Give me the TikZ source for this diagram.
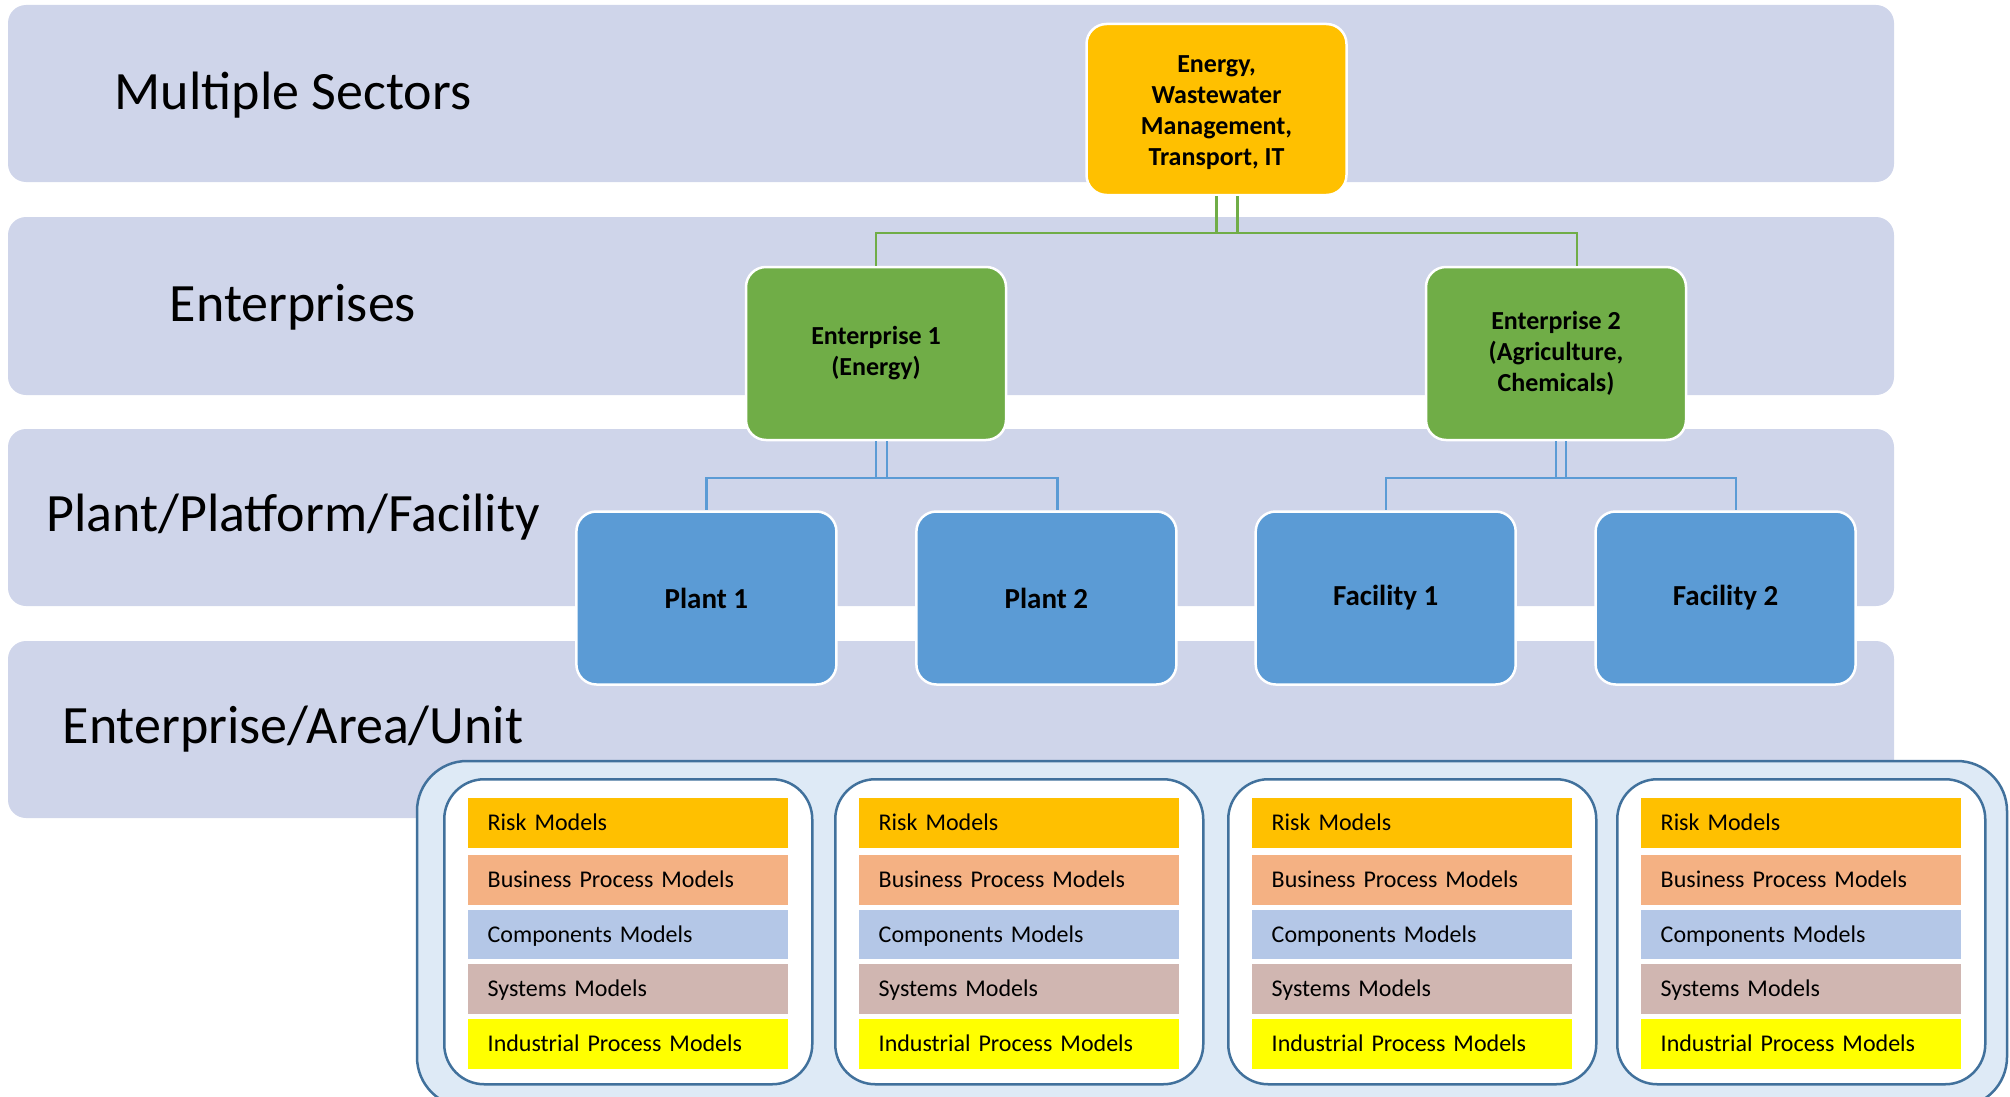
\documentclass[tikz,border=0pt]{standalone}
\usepackage{fontspec}
\setmainfont{Carlito}
\definecolor{bandc}{HTML}{CFD5EA}
\definecolor{orangec}{HTML}{FFC000}
\definecolor{greenc}{HTML}{70AD47}
\definecolor{bluec}{HTML}{5B9BD5}
\definecolor{contfill}{HTML}{DEEAF6}
\definecolor{contline}{HTML}{41719C}
\definecolor{riskc}{HTML}{FFC000}
\definecolor{busc}{HTML}{F4B183}
\definecolor{compc}{HTML}{B4C7E7}
\definecolor{sysc}{HTML}{D0B6B1}
\definecolor{indc}{HTML}{FFFF00}
\tikzset{
  bandbg/.style={fill=bandc, rounded corners=18pt},
  bandlabel/.style={anchor=base, inner sep=0pt, font=\fontsize{54}{60}\selectfont},
  orgbox/.style={draw=white, line width=2.5pt, rounded corners=20pt, minimum width=260pt,
    minimum height=173pt, inner sep=0pt, align=center, font=\bfseries\fontsize{26}{31}\selectfont},
  plantbox/.style={orgbox, fill=bluec, font=\bfseries\fontsize{29}{34}\selectfont},
  gline/.style={draw=greenc, line width=2.2pt},
  bline/.style={draw=bluec, line width=2.2pt},
  panelbox/.style={draw=contline, line width=2.5pt, fill=white, rounded corners=40pt,
    minimum width=368pt, minimum height=305pt, anchor=north west, inner sep=0pt},
  modelbar/.style={anchor=north west, minimum height=49.5pt, text width=280pt, inner xsep=20pt,
    inner ysep=0pt, align=left, text height=15.5pt, text depth=0pt, font=\fontsize{24}{28}\selectfont}
}
\begin{document}
\begin{tikzpicture}[x=1pt,y=-1pt]
\useasboundingbox (0,0) rectangle (2010,1097);
\clip (0,0) rectangle (2010,1097);
% bands
\path[bandbg] (8,5) rectangle (1894,182);
\path[bandbg] (8,217) rectangle (1894,395);
\path[bandbg] (8,429) rectangle (1894,606);
\path[bandbg] (8,641) rectangle (1894,818);
\node[bandlabel] (lab1) at (293,110) {Multiple Sectors};
\node[bandlabel] (lab2) at (293,321.7) {Enterprises};
\node[bandlabel] (lab3) at (293,531.7) {Plant/Platform/Facility};
\node[bandlabel] (lab4) at (293,743.3) {Enterprise/Area/Unit};
% boxes
\node[orgbox, fill=orangec, minimum height=171pt] (top) at (1216.5,109.5) {};
\node[align=center, inner sep=0pt, font=\bfseries\fontsize{26}{31}\selectfont] (toptext) at (1216.5,113) {Energy,\\Wastewater\\Management,\\Transport, IT};
\node[orgbox, fill=greenc] (e1) at (876,353.5) {Enterprise 1\\(Energy)};
\node[orgbox, fill=greenc] (e2) at (1556,353.5) {Enterprise 2\\(Agriculture,\\Chemicals)};
\node[plantbox] (p1) at (706.4,598) {Plant 1};
\node[plantbox] (p2) at (1046.4,598) {Plant 2};
\node[plantbox] (f1) at (1385.7,598) {Facility 1};
\node[plantbox] (f2) at (1725.6,598) {Facility 2};
% connectors
\coordinate (gbus) at (0,233);
\coordinate (bbus) at (0,478);
\draw[gline] ([xshift=21pt]top.south) -- ([xshift=21pt]top.south |- gbus) -| (e1.north);
\draw[gline] (top.south) -- (top.south |- gbus) -| ([xshift=21pt]e2.north);
\draw[bline] ([xshift=11pt]e1.south) -- ([xshift=11pt]e1.south |- bbus) -| (p1.north);
\draw[bline] (e1.south) -- (e1.south |- bbus) -| ([xshift=11pt]p2.north);
\draw[bline] ([xshift=10pt]e2.south) -- ([xshift=10pt]e2.south |- bbus) -| (f1.north);
\draw[bline] (e2.south) -- (e2.south |- bbus) -| ([xshift=10pt]f2.north);
% models container
\draw[draw=contline, line width=2.5pt, fill=contfill, rounded corners=50pt] (417,761) rectangle (2007,1107);
\foreach \i/\px in {1/443,2/834,3/1227,4/1616}{
  \node[panelbox] (pan\i) at (\px,778) {};
  \node[modelbar, fill=riskc] (risk\i) at (\px+24.5,798) {Risk Models};
  \node[modelbar, fill=busc] (bus\i) at (\px+24.5,855) {Business Process Models};
  \node[modelbar, fill=compc] (comp\i) at (\px+24.5,909.5) {Components Models};
  \node[modelbar, fill=sysc] (sys\i) at (\px+24.5,964) {Systems Models};
  \node[modelbar, fill=indc] (ind\i) at (\px+24.5,1019) {Industrial Process Models};
}
\end{tikzpicture}
\end{document}
